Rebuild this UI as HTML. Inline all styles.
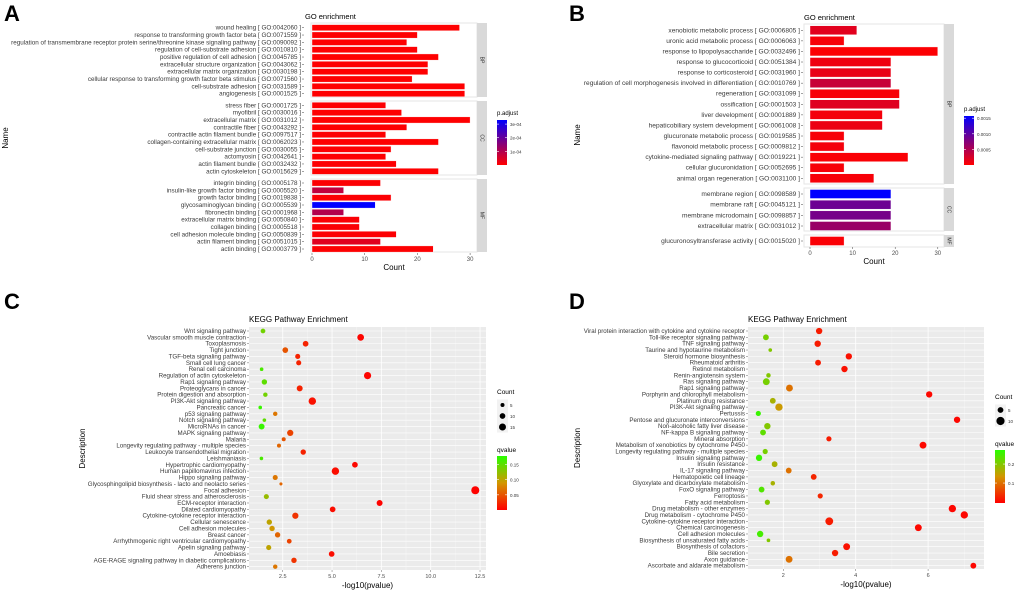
<!DOCTYPE html>
<html><head><meta charset="utf-8">
<style>
html,body{margin:0;padding:0;background:#fff;}
svg{display:block;font-family:"Liberation Sans",sans-serif;}
</style></head>
<body>
<svg id="fig" width="1020" height="594" viewBox="0 0 1020 594">
<text x="4" y="21" font-size="22" font-weight="bold">A</text>
<text x="569" y="21" font-size="22" font-weight="bold">B</text>
<text x="4" y="309" font-size="22" font-weight="bold">C</text>
<text x="569" y="309" font-size="22" font-weight="bold">D</text>
</svg>
<script>
// ---------- Panel A data ----------
const aBP = ["wound healing [ GO:0042060 ]","response to transforming growth factor beta [ GO:0071559 ]","regulation of transmembrane receptor protein serine/threonine kinase signaling pathway [ GO:0090092 ]","regulation of cell-substrate adhesion [ GO:0010810 ]","positive regulation of cell adhesion [ GO:0045785 ]","extracellular structure organization [ GO:0043062 ]","extracellular matrix organization [ GO:0030198 ]","cellular response to transforming growth factor beta stimulus [ GO:0071560 ]","cell-substrate adhesion [ GO:0031589 ]","angiogenesis [ GO:0001525 ]"];
const aBPCount = [28,20,18,20,24,22,22,19,29,29];
const aBPPadj = [0.000001,0.000002,0.000003,0.000002,0.000001,0.000001,0.000001,0.000003,0.000001,0.000001];
const aCC = ["stress fiber [ GO:0001725 ]","myofibril [ GO:0030016 ]","extracellular matrix [ GO:0031012 ]","contractile fiber [ GO:0043292 ]","contractile actin filament bundle [ GO:0097517 ]","collagen-containing extracellular matrix [ GO:0062023 ]","cell-substrate junction [ GO:0030055 ]","actomyosin [ GO:0042641 ]","actin filament bundle [ GO:0032432 ]","actin cytoskeleton [ GO:0015629 ]"];
const aCCCount = [14,17,30,18,14,24,15,14,16,24];
const aCCPadj = [0.000002,0.000002,0.000001,0.000002,0.000002,0.000001,0.000003,0.000003,0.000002,0.000001];
const aMF = ["integrin binding [ GO:0005178 ]","insulin-like growth factor binding [ GO:0005520 ]","growth factor binding [ GO:0019838 ]","glycosaminoglycan binding [ GO:0005539 ]","fibronectin binding [ GO:0001968 ]","extracellular matrix binding [ GO:0050840 ]","collagen binding [ GO:0005518 ]","cell adhesion molecule binding [ GO:0050839 ]","actin filament binding [ GO:0051015 ]","actin binding [ GO:0003779 ]"];
const aMFCount = [13,6,15,12,6,9,9,16,13,23];
const aMFPadj = [0.000004,0.00008,0.000005,0.00033,0.0001,0.000006,0.000006,0.000004,0.00004,0.000003];
const aTicks = [0,10,20,30];
const aLegend = ["3e-04","2e-04","1e-04"];
const aLegendVals = [0.0003,0.0002,0.0001];

// ---------- Panel B data ----------
const bBP = ["xenobiotic metabolic process [ GO:0006805 ]","uronic acid metabolic process [ GO:0006063 ]","response to lipopolysaccharide [ GO:0032496 ]","response to glucocorticoid [ GO:0051384 ]","response to corticosteroid [ GO:0031960 ]","regulation of cell morphogenesis involved in differentiation [ GO:0010769 ]","regeneration [ GO:0031099 ]","ossification [ GO:0001503 ]","liver development [ GO:0001889 ]","hepaticobiliary system development [ GO:0061008 ]","glucuronate metabolic process [ GO:0019585 ]","flavonoid metabolic process [ GO:0009812 ]","cytokine-mediated signaling pathway [ GO:0019221 ]","cellular glucuronidation [ GO:0052695 ]","animal organ regeneration [ GO:0031100 ]"];
const bBPCount = [11,8,30,19,19,19,21,21,17,17,8,8,23,8,15];
const bBPPadj = [0.00018,0.00005,0.00002,0.0001,0.00014,0.00035,0.00005,0.0002,0.00007,0.00012,0.00005,0.00007,0.00003,0.00005,0.00005];
const bCC = ["membrane region [ GO:0098589 ]","membrane raft [ GO:0045121 ]","membrane microdomain [ GO:0098857 ]","extracellular matrix [ GO:0031012 ]"];
const bCCCount = [19,19,19,19];
const bCCPadj = [0.0016,0.00092,0.00086,0.00064];
const bMF = ["glucuronosyltransferase activity [ GO:0015020 ]"];
const bMFCount = [8];
const bMFPadj = [0.00003];
const bTicks = [0,10,20,30];
const bLegend = ["0.0015","0.0010","0.0005"];
const bLegendVals = [0.0015,0.001,0.0005];

// ---------- Panel C data ----------
const cTerms = ["Wnt signaling pathway","Vascular smooth muscle contraction","Toxoplasmosis","Tight junction","TGF-beta signaling pathway","Small cell lung cancer","Renal cell carcinoma","Regulation of actin cytoskeleton","Rap1 signaling pathway","Proteoglycans in cancer","Protein digestion and absorption","PI3K-Akt signaling pathway","Pancreatic cancer","p53 signaling pathway","Notch signaling pathway","MicroRNAs in cancer","MAPK signaling pathway","Malaria","Longevity regulating pathway - multiple species","Leukocyte transendothelial migration","Leishmaniasis","Hypertrophic cardiomyopathy","Human papillomavirus infection","Hippo signaling pathway","Glycosphingolipid biosynthesis - lacto and neolacto series","Focal adhesion","Fluid shear stress and atherosclerosis","ECM-receptor interaction","Dilated cardiomyopathy","Cytokine-cytokine receptor interaction","Cellular senescence","Cell adhesion molecules","Breast cancer","Arrhythmogenic right ventricular cardiomyopathy","Apelin signaling pathway","Amoebiasis","AGE-RAGE signaling pathway in diabetic complications","Adherens junction"];
const cLogP = [1.5,6.45,3.66,2.63,3.26,3.31,1.43,6.8,1.57,3.36,1.62,4.0,1.36,2.12,1.57,1.43,2.88,2.55,2.31,3.54,1.42,6.16,5.17,2.12,2.41,12.26,1.67,7.41,5.03,3.14,1.82,1.96,2.24,2.83,1.79,4.98,3.07,2.12];
const cCount = [7,14,10,10,8,8,4,16,9,11,6,17,4,6,4,11,12,5,5,9,4,10,17,8,3,20,8,11,10,12,9,9,9,7,8,10,9,6];
const cQ = [0.14,0.003,0.02,0.05,0.02,0.02,0.16,0.003,0.15,0.02,0.14,0.01,0.17,0.07,0.15,0.17,0.04,0.05,0.06,0.02,0.16,0.005,0.008,0.07,0.06,0.001,0.12,0.002,0.008,0.03,0.1,0.09,0.06,0.04,0.1,0.008,0.03,0.07];
const cTicks = [2.5,5.0,7.5,10.0,12.5];
const cSizeLegend = [5,10,15];
const cQLegend = [0.15,0.10,0.05];

// ---------- Panel D data ----------
const dTerms = ["Viral protein interaction with cytokine and cytokine receptor","Toll-like receptor signaling pathway","TNF signaling pathway","Taurine and hypotaurine metabolism","Steroid hormone biosynthesis","Rheumatoid arthritis","Retinol metabolism","Renin-angiotensin system","Ras signaling pathway","Rap1 signaling pathway","Porphyrin and chlorophyll metabolism","Platinum drug resistance","PI3K-Akt signaling pathway","Pertussis","Pentose and glucuronate interconversions","Non-alcoholic fatty liver disease","NF-kappa B signaling pathway","Mineral absorption","Metabolism of xenobiotics by cytochrome P450","Longevity regulating pathway - multiple species","Insulin signaling pathway","Insulin resistance","IL-17 signaling pathway","Hematopoietic cell lineage","Glyoxylate and dicarboxylate metabolism","FoxO signaling pathway","Ferroptosis","Fatty acid metabolism","Drug metabolism - other enzymes","Drug metabolism - cytochrome P450","Cytokine-cytokine receptor interaction","Chemical carcinogenesis","Cell adhesion molecules","Biosynthesis of unsaturated fatty acids","Biosynthesis of cofactors","Bile secretion","Axon guidance","Ascorbate and aldarate metabolism"];
const dLogP = [2.99,1.52,2.95,1.64,3.81,2.96,3.69,1.59,1.53,2.17,6.03,1.71,1.88,1.31,6.8,1.56,1.44,3.26,5.86,1.5,1.33,1.76,2.15,2.84,1.71,1.4,3.02,1.56,6.67,7.0,3.27,5.73,1.36,1.59,3.75,3.43,2.16,7.25];
const dCount = [6,5,6,2,6,5,6,3,7,7,6,5,8,4,6,6,5,4,7,4,6,5,5,5,3,5,4,4,8,8,9,7,6,2,7,6,7,5];
const dQ = [0.02,0.21,0.02,0.2,0.01,0.02,0.01,0.2,0.21,0.1,0.002,0.17,0.14,0.26,0.001,0.2,0.23,0.02,0.002,0.21,0.26,0.17,0.1,0.03,0.17,0.24,0.03,0.2,0.001,0.001,0.02,0.002,0.25,0.2,0.01,0.02,0.1,0.001];
const dTicks = [2,4,6];
const dSizeLegend = [5,10];
const dQLegend = [0.2,0.1];

const NS = "http://www.w3.org/2000/svg";
const svg = document.getElementById('fig');
function mk(tag, attrs, parent){
  const e = document.createElementNS(NS, tag);
  for (const k in attrs) e.setAttribute(k, attrs[k]);
  (parent||svg).appendChild(e);
  return e;
}
function padjColor(p, pmax){
  let t = Math.max(0, Math.min(1, p / pmax));
  return `rgb(${Math.round(255*(1-t))},0,${Math.round(255*t)})`;
}
function qColor(q, qmin, qmax){
  let t = Math.max(0, Math.min(1, (q - qmin) / (qmax - qmin)));
  let r, g;
  if (t < 0.5){ r = 255 - t*2*45; g = t*2*150; }
  else { r = 210 - (t-0.5)*2*170; g = 150 + (t-0.5)*2*105; }
  return `rgb(${Math.round(r)},${Math.round(g)},0)`;
}

// ---------- bar panel ----------
function barPanel(cfg){
  const xs = v => cfg.x0 + v * cfg.pxPer;
  const t = mk('text', {x: cfg.titleX, y: cfg.titleY, 'font-size': 7.5});
  
  
  t.textContent = 'GO enrichment';
  cfg.facets.forEach(f => {
    const bg = mk('rect', {x: cfg.pl, y: f.top, width: cfg.pr - cfg.pl, height: f.bot - f.top, fill: '#fff', stroke: '#e6e6e6', 'stroke-width': 1});
    
    
    const st = mk('rect', {x: cfg.pr, y: f.top, width: 10, height: f.bot - f.top, fill: '#d9d9d9'});
    
    
    const sl = mk('text', {x: 0, y: 0, 'font-size': 5, fill: '#333', 'text-anchor': 'middle', transform: `translate(${cfg.pr+3.5},${(f.top+f.bot)/2}) rotate(90)`});
    
    
    sl.textContent = f.name;
    const n = f.labels.length;
    f.labels.forEach((lab, i) => {
      const cy = n === 1 ? (f.top + f.bot)/2 : f.first + i * (f.last - f.first)/(n-1);
      const h = f.bh;
      const bar = mk('rect', {x: xs(0), y: cy - h/2, width: xs(f.counts[i]) - xs(0), height: h, fill: padjColor(f.padj[i], cfg.pmax), stroke: '#fff', 'stroke-width': 0.4});
      
      
      const lt = mk('text', {x: cfg.labelX, y: cy + 2, 'font-size': cfg.fs, fill: '#3a3a3a', 'text-anchor': 'end'});
      
      
      lt.textContent = lab;
      mk('line', {x1: cfg.labelX + 1, x2: cfg.labelX + 3, y1: cy, y2: cy, stroke: '#444', 'stroke-width': 0.5});
    });
  });
  cfg.ticks.forEach(v => {
    mk('line', {x1: xs(v), x2: xs(v), y1: cfg.axisY, y2: cfg.axisY + 2, stroke: '#444', 'stroke-width': 0.5});
    const tl = mk('text', {x: xs(v), y: cfg.axisY + 8, 'font-size': 6, fill: '#4d4d4d', 'text-anchor': 'middle'});
    
    
    tl.textContent = v;
  });
  const xl = mk('text', {x: (cfg.pl + cfg.pr)/2, y: cfg.axisY + 17, 'font-size': 8, 'text-anchor': 'middle'});
  
  
  xl.textContent = 'Count';
  const yl = mk('text', {x: 0, y: 0, 'font-size': 8, 'text-anchor': 'middle', transform: `translate(${cfg.nameX},${cfg.nameY}) rotate(-90)`});
  
  
  yl.textContent = 'Name';
  const lg = cfg.leg;
  const lt = mk('text', {x: lg.x, y: lg.top - 5, 'font-size': 6});
  
  
  lt.textContent = 'p.adjust';
  const gid = cfg.id + '-grad';
  const defs = mk('defs', {});
  const lgd = mk('linearGradient', {id: gid, x1: 0, y1: 1, x2: 0, y2: 0}, defs);
  mk('stop', {offset: '0', 'stop-color': '#ff0000'}, lgd);
  mk('stop', {offset: '1', 'stop-color': '#0000ff'}, lgd);
  const gr = mk('rect', {x: lg.x, y: lg.top, width: 10, height: lg.bot - lg.top, fill: `url(#${gid})`});
  
  
  cfg.legLabels.forEach((s, i) => {
    const yy = lg.bot - (cfg.legVals[i] / lg.vmax) * (lg.bot - lg.top);
    mk('line', {x1: lg.x, x2: lg.x + 2, y1: yy, y2: yy, stroke: '#fff', 'stroke-width': 0.6});
    mk('line', {x1: lg.x + 8, x2: lg.x + 10, y1: yy, y2: yy, stroke: '#fff', 'stroke-width': 0.6});
    const tt = mk('text', {x: lg.x + 13, y: yy + 2, 'font-size': 4.5, fill: '#333'});
    
    
    tt.textContent = s;
  });
}

barPanel({id: 'panel-a', x0: 312, pxPer: 5.27, pl: 311, pr: 477, labelX: 301, fs: 6.3, titleX: 305, titleY: 19, axisY: 253, nameX: 8, nameY: 138, pmax: 0.00033,
  ticks: aTicks, legLabels: aLegend, legVals: aLegendVals, leg: {x: 497, top: 120, bot: 165, vmax: 0.00033},
  facets: [
    {name: 'BP', top: 23, bot: 97, first: 27.7, last: 93.7, bh: 6.2, labels: aBP, counts: aBPCount, padj: aBPPadj},
    {name: 'CC', top: 101, bot: 175, first: 105.3, last: 171.3, bh: 6.2, labels: aCC, counts: aCCCount, padj: aCCPadj},
    {name: 'MF', top: 179, bot: 252, first: 183, last: 249, bh: 6.2, labels: aMF, counts: aMFCount, padj: aMFPadj}
  ]});

barPanel({id: 'panel-b', x0: 810, pxPer: 4.26, pl: 804, pr: 944, labelX: 800, fs: 6.6, titleX: 804, titleY: 20, axisY: 247, nameX: 580, nameY: 135, pmax: 0.0016,
  ticks: bTicks, legLabels: bLegend, legVals: bLegendVals, leg: {x: 964, top: 116, bot: 165, vmax: 0.00157},
  facets: [
    {name: 'BP', top: 24, bot: 184, first: 30.3, last: 178.3, bh: 9, labels: bBP, counts: bBPCount, padj: bBPPadj},
    {name: 'CC', top: 188, bot: 231, first: 194, last: 226, bh: 9, labels: bCC, counts: bCCCount, padj: bCCPadj},
    {name: 'MF', top: 235, bot: 247, first: 241, last: 241, bh: 9, labels: bMF, counts: bMFCount, padj: bMFPadj}
  ]});

// ---------- dot panel ----------
function dotPanel(cfg){
  const xs = v => cfg.x0 + v * cfg.pxPer;
  const n = cfg.terms.length;
  const ys = i => cfg.first + i * (cfg.last - cfg.first)/(n-1);
  const bg = mk('rect', {x: cfg.pl, y: cfg.pt, width: cfg.pr - cfg.pl, height: cfg.pb - cfg.pt, fill: '#ebebeb'});
  
  
  cfg.minor.forEach(v => mk('line', {x1: xs(v), x2: xs(v), y1: cfg.pt, y2: cfg.pb, stroke: '#f7f7f7', 'stroke-width': 0.4}));
  cfg.ticks.forEach(v => mk('line', {x1: xs(v), x2: xs(v), y1: cfg.pt, y2: cfg.pb, stroke: '#fff', 'stroke-width': 0.8}));
  cfg.terms.forEach((t, i) => {
    mk('line', {x1: cfg.pl, x2: cfg.pr, y1: ys(i), y2: ys(i), stroke: '#fff', 'stroke-width': 0.6});
  });
  const ti = mk('text', {x: cfg.pl, y: cfg.pt - 5, 'font-size': 8});
  
  
  ti.textContent = 'KEGG Pathway Enrichment';
  cfg.terms.forEach((t, i) => {
    const lt = mk('text', {x: cfg.pl - 3, y: ys(i) + 2, 'font-size': 6.2, fill: '#3a3a3a', 'text-anchor': 'end'});
    
    
    lt.textContent = t;
    mk('line', {x1: cfg.pl - 2, x2: cfg.pl, y1: ys(i), y2: ys(i), stroke: '#444', 'stroke-width': 0.4});
    const c = mk('circle', {cx: xs(cfg.logp[i]), cy: ys(i), r: cfg.rk * Math.sqrt(cfg.count[i]), fill: qColor(cfg.q[i], cfg.qmin, cfg.qmax)});
    
    
  });
  cfg.ticks.forEach(v => {
    mk('line', {x1: xs(v), x2: xs(v), y1: cfg.pb, y2: cfg.pb + 2, stroke: '#444', 'stroke-width': 0.4});
    const tl = mk('text', {x: xs(v), y: cfg.pb + 8, 'font-size': 5.5, fill: '#4d4d4d', 'text-anchor': 'middle'});
    
    
    tl.textContent = cfg.tickFmt(v);
  });
  const xl = mk('text', {x: (cfg.pl + cfg.pr)/2, y: cfg.pb + 18, 'font-size': 8, 'text-anchor': 'middle'});
  
  
  xl.textContent = '-log10(pvalue)';
  const yl = mk('text', {x: 0, y: 0, 'font-size': 8, 'text-anchor': 'middle', transform: `translate(${cfg.descX},${(cfg.pt+cfg.pb)/2}) rotate(-90)`});
  
  
  yl.textContent = 'Description';
  const L = cfg.leg;
  const st = mk('text', {x: L.x, y: L.countY, 'font-size': 6.5});
  
  
  st.textContent = 'Count';
  cfg.sizeLegend.forEach((s, i) => {
    const yy = L.countY + 11 + i * 11;
    mk('rect', {x: L.x, y: yy - 5.5, width: 11, height: 11, fill: '#f2f2f2'});
    const c = mk('circle', {cx: L.x + 5.5, cy: yy, r: cfg.rk * Math.sqrt(s), fill: '#000'});
    
    
    const tt = mk('text', {x: L.x + 13, y: yy + 2, 'font-size': 4.5, fill: '#333'});
    
    
    tt.textContent = s;
  });
  const qt = mk('text', {x: L.x, y: L.qTitleY, 'font-size': 6.5});
  
  
  qt.textContent = 'qvalue';
  const defs = mk('defs', {});
  const gid = cfg.id + '-qgrad';
  const lgd = mk('linearGradient', {id: gid, x1: 0, y1: 1, x2: 0, y2: 0}, defs);
  [0, 0.25, 0.5, 0.75, 1].forEach(o => mk('stop', {offset: o, 'stop-color': qColor(cfg.qmin + o*(cfg.qmax-cfg.qmin), cfg.qmin, cfg.qmax)}, lgd));
  const gr = mk('rect', {x: L.x, y: L.top, width: 10, height: L.bot - L.top, fill: `url(#${gid})`});
  
  
  cfg.qLegend.forEach(v => {
    const yy = L.bot - (v - cfg.qmin)/(cfg.qmax - cfg.qmin) * (L.bot - L.top);
    mk('line', {x1: L.x, x2: L.x + 2, y1: yy, y2: yy, stroke: '#fff', 'stroke-width': 0.6});
    mk('line', {x1: L.x + 8, x2: L.x + 10, y1: yy, y2: yy, stroke: '#fff', 'stroke-width': 0.6});
    const tt = mk('text', {x: L.x + 13, y: yy + 2, 'font-size': 4.5, fill: '#333'});
    
    
    tt.textContent = v.toFixed(cfg.qDigits);
  });
}

dotPanel({id: 'panel-c', terms: cTerms, logp: cLogP, count: cCount, q: cQ, ticks: cTicks, minor: [3.75,6.25,8.75,11.25],
  tickFmt: v => v.toFixed(1), x0: 233.4, pxPer: 19.73, pl: 249, pr: 486, pt: 327, pb: 570, first: 331, last: 566.7, rk: 0.9, descX: 85,
  qmin: 0.0, qmax: 0.178, qDigits: 2, sizeLegend: cSizeLegend, qLegend: cQLegend,
  leg: {x: 497, countY: 394, qTitleY: 452, top: 456, bot: 510}});

dotPanel({id: 'panel-d', terms: dTerms, logp: dLogP, count: dCount, q: dQ, ticks: dTicks, minor: [1,3,5,7],
  tickFmt: v => String(v), x0: 710.9, pxPer: 36.2, pl: 748, pr: 984, pt: 327, pb: 569, first: 331, last: 565.7, rk: 1.3, descX: 580,
  qmin: -0.005, qmax: 0.274, qDigits: 1, sizeLegend: dSizeLegend, qLegend: dQLegend,
  leg: {x: 995, countY: 399, qTitleY: 446, top: 450, bot: 503}});
</script>
</body></html>
